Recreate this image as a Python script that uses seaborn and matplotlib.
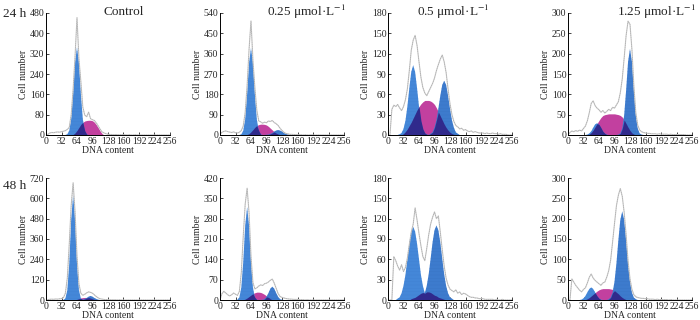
import numpy as np
import matplotlib
matplotlib.use("Agg")
import matplotlib.pyplot as plt
import seaborn as sns

# DNA content channels (step of 4)
dna = np.arange(0, 257, 4)

# raw histograms (gray trace), one value per channel above
raw_ctrl_24 = [0, 3, 8, 10, 9, 11, 12, 11,
               13, 15, 17, 22, 30, 80, 180, 310,
               462, 300, 210, 110, 78, 72, 90, 64,
               60, 57, 47, 35, 22, 12, 8, 5,
               3, 2, 2, 1, 2, 1, 1, 1,
               1, 1, 0, 1, 0, 0, 1, 0,
               0, 0, 0, 0, 0, 0, 0, 0,
               0, 0, 0, 0, 0, 0, 0, 0,
               0]
raw_025_24 = [2, 12, 16, 18, 15, 13, 11, 14,
              10, 9, 12, 20, 40, 100, 220, 380,
              505, 330, 210, 110, 62, 58, 52, 57,
              54, 62, 60, 64, 55, 50, 42, 30,
              20, 12, 7, 5, 3, 3, 2, 2,
              1, 1, 1, 0, 1, 0, 0, 1,
              0, 0, 0, 0, 0, 0, 0, 0,
              0, 0, 0, 0, 0, 0, 0, 0,
              0]
raw_05_24 = [0, 0, 38, 44, 42, 45, 40, 36,
             42, 52, 68, 95, 125, 140, 147, 132,
             108, 85, 70, 62, 58, 64, 70, 76,
             84, 95, 104, 112, 118, 108, 92, 68,
             46, 30, 20, 14, 12, 9, 10, 7,
             8, 6, 5, 6, 4, 5, 4, 3,
             3, 3, 2, 3, 2, 2, 3, 2,
             2, 1, 2, 1, 1, 1, 0, 0,
             0]
raw_125_24 = [0, 6, 10, 8, 11, 9, 12, 10,
              16, 22, 35, 55, 78, 84, 72, 66,
              62, 56, 60, 54, 58, 63, 60, 68,
              66, 74, 82, 104, 138, 190, 245, 280,
              272, 210, 120, 55, 24, 12, 8, 6,
              5, 4, 4, 3, 3, 3, 2, 3,
              2, 2, 2, 2, 1, 2, 1, 1,
              1, 1, 1, 1, 1, 0, 0, 0,
              0]
raw_ctrl_48 = [0, 2, 4, 5, 4, 6, 5, 7,
               8, 14, 40, 130, 330, 560, 692, 520,
               260, 95, 40, 28, 34, 42, 48, 45,
               40, 30, 20, 12, 7, 5, 3, 2,
               2, 1, 1, 1, 1, 0, 1, 0,
               0, 0, 0, 0, 0, 0, 0, 0,
               0, 0, 0, 0, 0, 0, 0, 0,
               0, 0, 0, 0, 0, 0, 0, 0,
               0]
raw_025_48 = [0, 22, 30, 24, 18, 14, 18, 24,
              20, 16, 30, 95, 220, 330, 385, 300,
              150, 60, 38, 42, 48, 52, 50, 56,
              58, 62, 68, 72, 58, 40, 22, 12,
              9, 7, 5, 4, 3, 3, 2, 2,
              2, 1, 1, 1, 0, 1, 0, 0,
              0, 0, 0, 0, 0, 0, 0, 0,
              0, 0, 0, 0, 0, 0, 0, 0,
              0]
raw_05_48 = [0, 0, 0, 64, 58, 50, 44, 52,
             42, 48, 62, 82, 100, 112, 136, 118,
             98, 80, 64, 58, 76, 96, 112, 122,
             130, 120, 124, 100, 74, 50, 32, 22,
             16, 14, 12, 15, 10, 12, 8, 10,
             9, 7, 5, 4, 4, 3, 3, 2,
             2, 2, 1, 1, 1, 1, 1, 0,
             1, 0, 0, 1, 0, 0, 0, 0,
             0]
raw_125_48 = [0, 0, 52, 44, 36, 30, 24, 20,
              26, 30, 42, 56, 64, 54, 48, 44,
              40, 36, 42, 44, 56, 72, 98, 142,
              188, 232, 258, 274, 255, 215, 160, 96,
              52, 26, 13, 8, 6, 5, 4, 4,
              3, 3, 2, 2, 2, 1, 2, 1,
              1, 1, 1, 1, 0, 1, 0, 0,
              0, 0, 0, 0, 0, 0, 0, 0,
              0]

# fitted components: (first channel, values every 4 channels)
g1_ctrl_24 = (44, [3, 17, 63, 162, 286, 345, 286, 162, 63, 17, 3])
s_ctrl_24 = (56, [2, 8, 18, 30, 42, 50, 55, 57, 58, 58, 56, 50, 40, 28, 15, 5, 0])
g2_ctrl_24 = (0, [])

g1_025_24 = (44, [3, 19, 70, 181, 319, 385, 319, 181, 70, 19, 3])
s_025_24 = (56, [2, 6, 14, 24, 34, 42, 46, 48, 48, 47, 44, 38, 30, 22, 14, 8, 4, 1, 0])
g2_025_24 = (96, [1, 2, 5, 9, 15, 20, 22, 20, 15, 9, 5, 2, 1])

g1_05_24 = (24, [1, 3, 9, 21, 42, 69, 93, 103, 93, 69, 42, 21, 9, 3, 1])
s_05_24 = (32, [2, 5, 9, 14, 19, 25, 31, 37, 42, 46, 49, 51, 51, 51, 50, 48, 45, 40,
                34, 28, 22, 16, 11, 7, 4, 2, 1, 0])
g2_05_24 = (84, [0, 2, 4, 11, 22, 39, 58, 74, 80, 74, 58, 39, 22, 11, 4, 2, 0])

g1_125_24 = (40, [1, 4, 9, 18, 26, 29, 26, 18, 9, 4, 1])
s_125_24 = (44, [2, 6, 12, 20, 28, 36, 43, 48, 50, 51, 52, 52, 52, 52, 51, 50, 48, 44,
                 37, 28, 19, 11, 5, 2, 0])
g2_125_24 = (104, [1, 4, 16, 49, 110, 180, 212, 180, 110, 49, 16, 4, 1])

g1_ctrl_48 = (36, [1, 9, 58, 215, 476, 620, 476, 215, 58, 9, 1])
s_ctrl_48 = (60, [1, 4, 8, 12, 14, 15, 15, 14, 11, 7, 3, 1, 0])
g2_ctrl_48 = (72, [0, 2, 6, 12, 20, 24, 20, 12, 6, 2, 0])

g1_025_48 = (36, [1, 9, 43, 131, 256, 320, 256, 131, 43, 9, 1])
s_025_48 = (48, [1, 3, 7, 12, 17, 22, 25, 27, 27, 26, 23, 19, 14, 9, 4, 1, 0])
g2_025_48 = (84, [0, 1, 3, 11, 24, 39, 46, 39, 24, 11, 3, 1, 0])

g1_05_48 = (20, [2, 4, 10, 21, 37, 60, 83, 101, 108, 101, 83, 60, 37, 21, 10, 4, 2])
s_05_48 = (48, [2, 3, 4, 6, 8, 10, 11, 12, 12, 12, 11, 9, 7, 6, 4, 3, 2, 1, 0])
g2_05_48 = (68, [2, 4, 10, 21, 38, 61, 85, 103, 110, 103, 85, 61, 38, 21, 10, 4, 2])

g1_125_48 = (24, [0, 1, 4, 10, 19, 27, 31, 27, 19, 10, 4, 1, 0])
s_125_48 = (36, [1, 3, 6, 10, 14, 18, 22, 25, 27, 28, 28, 28, 28, 27, 26, 23, 19, 15,
                 10, 6, 3, 1, 0])
g2_125_48 = (84, [2, 6, 18, 45, 90, 147, 197, 218, 197, 147, 90, 45, 18, 6, 2])

y_max = [480, 540, 180, 300, 720, 420, 180, 300]
y_step = [80, 90, 30, 50, 120, 70, 30, 50]
titles = ["Control", "0.25 μmol·L$^{-1}$", "0.5 μmol·L$^{-1}$", "1.25 μmol·L$^{-1}$"]
row_labels = ["24 h", "48 h"]

panels = [
    (raw_ctrl_24, g1_ctrl_24, s_ctrl_24, g2_ctrl_24),
    (raw_025_24, g1_025_24, s_025_24, g2_025_24),
    (raw_05_24, g1_05_24, s_05_24, g2_05_24),
    (raw_125_24, g1_125_24, s_125_24, g2_125_24),
    (raw_ctrl_48, g1_ctrl_48, s_ctrl_48, g2_ctrl_48),
    (raw_025_48, g1_025_48, s_025_48, g2_025_48),
    (raw_05_48, g1_05_48, s_05_48, g2_05_48),
    (raw_125_48, g1_125_48, s_125_48, g2_125_48),
]


def comp(part):
    start, vals = part
    y = np.zeros(len(dna))
    i = start // 4
    y[i:i + len(vals)] = vals
    return y


sns.set_theme(style="ticks")
plt.rcParams["font.family"] = ["Liberation Serif", "DejaVu Serif"]
plt.rcParams["mathtext.fontset"] = "stix"
plt.rcParams["hatch.linewidth"] = 0.25

BLUE = "#4487d8"
BLUE2 = "#3d7bcd"
MAGENTA = "#c2409f"
DARK = "#302a8c"

fig = plt.figure(figsize=(7, 3.2), dpi=100)

lefts = [46, 220, 388, 568]
bottoms = [135, 300]

for k, (raw, g1p, sp, g2p) in enumerate(panels):
    row, col = divmod(k, 4)
    ax = fig.add_axes([lefts[col] / 700, 1 - bottoms[row] / 320, 124 / 700, 122 / 320])

    g1 = comp(g1p)
    s = comp(sp)
    g2 = comp(g2p)

    ax.fill_between(dna, 0, s, color=MAGENTA, lw=0)
    ax.fill_between(dna, 0, g1, facecolor=BLUE, edgecolor="#3f80d0", hatch="-----", lw=0)
    ax.fill_between(dna, 0, g2, facecolor=BLUE2, edgecolor="#3874c4", hatch="-----", lw=0)
    dark = np.maximum.reduce([np.minimum(g1, s), np.minimum(g2, s), np.minimum(g1, g2)])
    ax.fill_between(dna, 0, dark, color=DARK, lw=0)

    sns.lineplot(x=dna, y=raw, ax=ax, color="#c4c4c4", lw=0.8)
    ax.plot(dna, raw, color="#666666", lw=0.45, ls=(0, (1, 2.5)), alpha=0.4)

    ax.set_xlim(0, 256)
    ax.set_ylim(0, y_max[k])
    ax.set_xticks(np.arange(0, 257, 32))
    ax.set_yticks(np.arange(0, y_max[k] + 1, y_step[k]))
    ax.tick_params(direction="in", length=2.5, width=0.6, pad=1.2, labelsize=7)
    for sp_name in ["left", "bottom"]:
        ax.spines[sp_name].set_linewidth(0.7)
        ax.spines[sp_name].set_color("black")
    sns.despine(ax=ax)
    ax.set_xlabel("DNA content", fontsize=7, labelpad=0)
    ax.set_ylabel("Cell number", fontsize=7, labelpad=1.5)

# column titles
title_x = [124, 307, 453, 657]
for tx, t in zip(title_x, titles):
    fig.text(tx / 700, 1 - 12 / 320, t, ha="center", va="center", fontsize=9.5)

fig.text(3 / 700, 1 - 14 / 320, row_labels[0], ha="left", va="center", fontsize=9.5)
fig.text(3 / 700, 1 - 186 / 320, row_labels[1], ha="left", va="center", fontsize=9.5)

fig.savefig("out.png", dpi=100, facecolor="white")
